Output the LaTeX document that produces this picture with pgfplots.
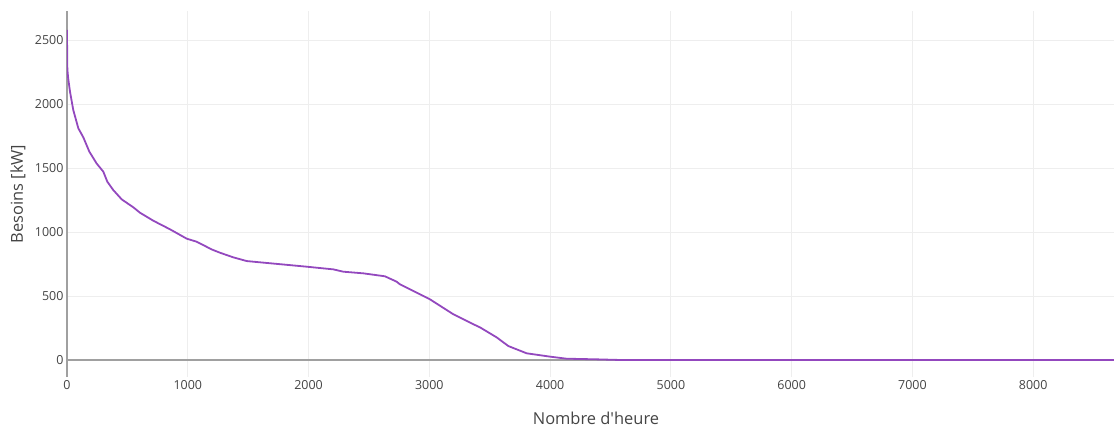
\documentclass[border=0pt]{standalone}
\usepackage{pgfplots}
\pgfplotsset{compat=1.18}
\usepackage{fontspec}
\setmainfont{Open Sans}
\definecolor{txt}{HTML}{444444}
\definecolor{gridc}{HTML}{EEEEEE}
\definecolor{zeroc}{HTML}{A0A0A0}
\definecolor{linec}{HTML}{9348BE}
\begin{document}
\begin{tikzpicture}
\begin{axis}[
  name=ax,
  at={(0,0)},
  scale only axis,
  width=1058bp, height=366bp,
  xmin=0, xmax=8760,
  ymin=-133, ymax=2727,
  xtick={0,1000,...,8000},
  ytick={0,500,...,2500},
  axis line style={draw=none},
  major tick length=0pt,
  grid=major,
  major grid style={gridc, line width=0.8bp},
  extra x ticks={0}, extra y ticks={0},
  extra x tick labels={}, extra y tick labels={},
  extra tick style={major grid style={zeroc, line width=1.8bp}},
  /pgf/number format/assume math mode=true,
  /pgf/number format/set thousands separator={},
  ticklabel style={font=\fontsize{12.5}{14}\selectfont, text=txt},
  xlabel={Nombre d\textquotesingle heure},
  ylabel={Besoins [kW]},
  label style={font=\fontsize{16.5}{19}\selectfont, text=txt},
  xlabel style={at={(axis description cs:0.5,-0.112)}, anchor=center},
  ylabel style={at={(axis description cs:-0.0463,0.5)}, anchor=center},
]
\addplot[linec, line width=1.8bp, line join=round] coordinates {
(0,2580) (2,2300) (5,2250) (10,2200) (25,2096) (52,1953) (94,1810) (135,1740)
(185,1628) (245,1536) (301,1471) (334,1393) (383,1328) (453,1255) (549,1193)
(604,1151) (715,1088) (853,1021) (991,948) (1074,924) (1198,864) (1267,838)
(1377,802) (1488,773) (1543,768) (1984,729) (2205,708) (2287,690) (2453,677)
(2632,654) (2729,612) (2757,591) (2867,539) (3005,474) (3199,357) (3365,279)
(3419,255) (3502,208) (3557,177) (3654,109) (3806,52) (4000,26) (4136,10)
(4385,5) (4578,0) (8760,0)
};
\end{axis}
\pgfresetboundingbox
\path[use as bounding box] ([xshift=-67bp,yshift=-51bp]ax.south west) rectangle ([xshift=1047bp,yshift=377bp]ax.south west);
\end{tikzpicture}
\end{document}
